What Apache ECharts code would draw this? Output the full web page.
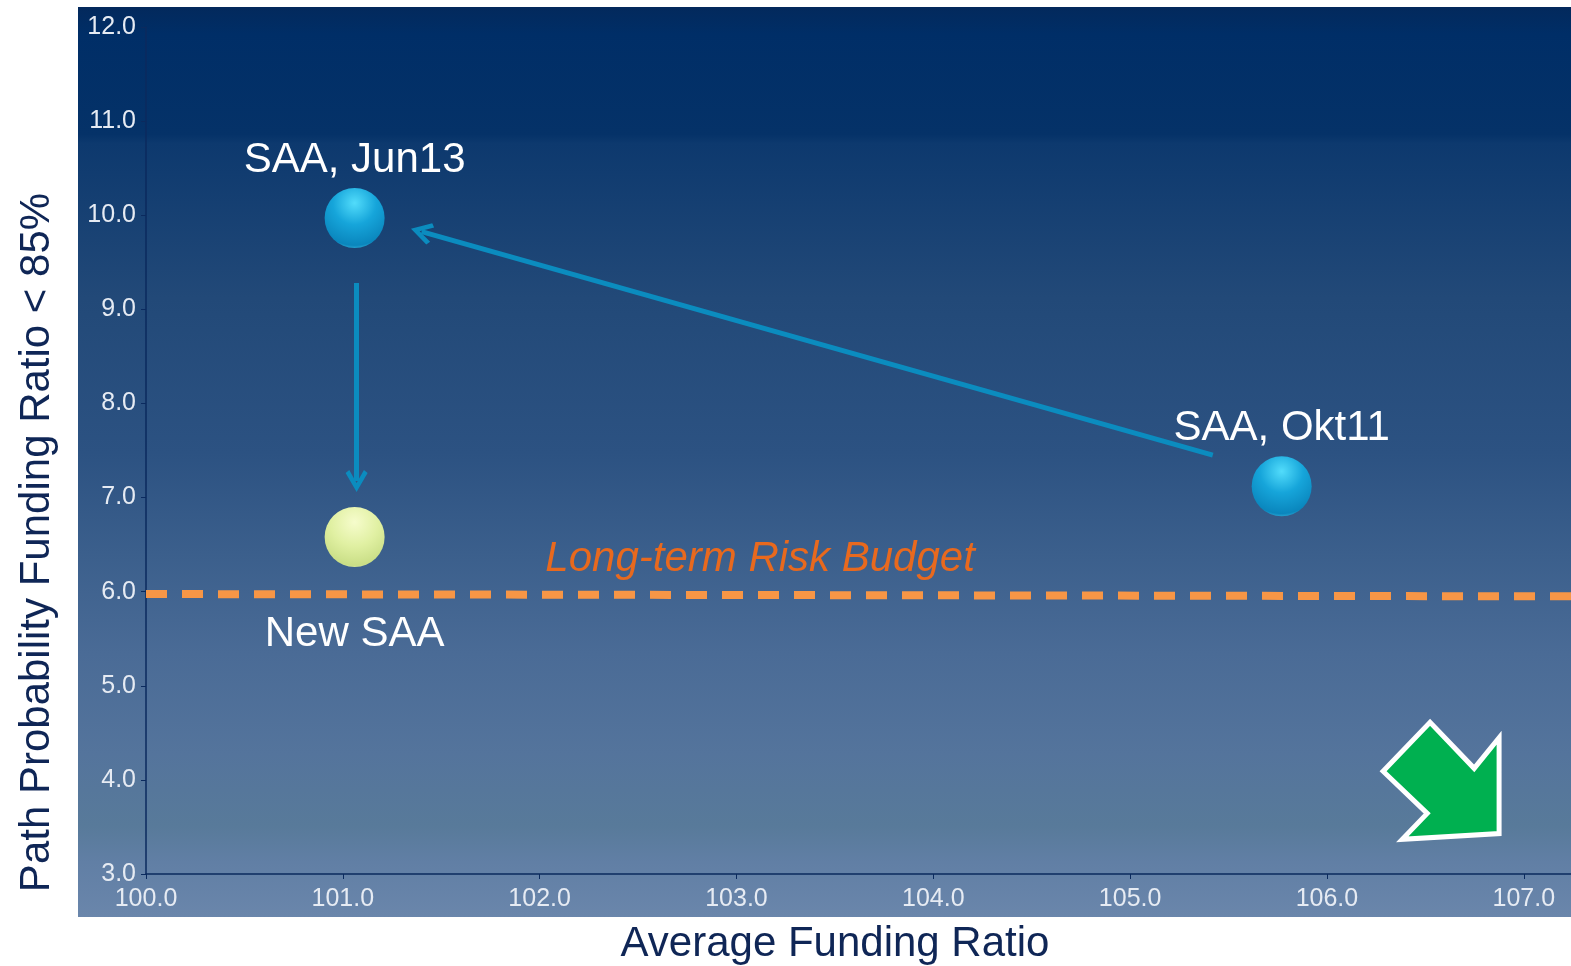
<!DOCTYPE html>
<html>
<head>
<meta charset="utf-8">
<title>Path probability vs average funding ratio</title>
<script src="https://cdn.jsdelivr.net/npm/echarts@6/dist/echarts.min.js"></script>
<style>
  html, body { margin: 0; padding: 0; background: #ffffff; }
  #chart { width: 1571px; height: 966px; }
</style>
</head>
<body>
<div id="chart"></div>
<script>
// portfolios (x = average funding ratio, y = path probability < 85%)
const pointNames = ['SAA, Jun13', 'New SAA', 'SAA, Okt11'];
const pointX = [101.06, 101.06, 105.77];
const pointY = [9.97, 6.58, 7.12];

// transition arrows
const arrowFrom = [[105.42, 7.45], [101.07, 9.28]];
const arrowTo = [[101.40, 9.825], [101.07, 7.175]];

// long-term risk budget line
const budgetX = [100, 107.24];
const budgetY = [5.975, 5.95];
const budgetLabel = 'Long-term Risk Budget';
const budgetLabelAt = [103.12, 5.97];

// green "better" indicator
const indicatorAt = [106.58, 3.99];

const FONT = "'Liberation Sans', Arial, sans-serif";
const AXIS_DARK = '#0b2a5e';
const LABEL_LIGHT = '#e6ebf3';

const blueBall = {
    type: 'radial', x: 0.5, y: 0.25, r: 0.8,
    colorStops: [
        { offset: 0, color: '#52dcfb' },
        { offset: 0.45, color: '#16a5da' },
        { offset: 0.88, color: '#0a86bd' },
        { offset: 1, color: '#40bde3' }
    ]
};
const greenBall = {
    type: 'radial', x: 0.5, y: 0.25, r: 0.8,
    colorStops: [
        { offset: 0, color: '#f6fccc' },
        { offset: 0.5, color: '#e0f0a2' },
        { offset: 0.9, color: '#c9de86' },
        { offset: 1, color: '#e4f2b0' }
    ]
};

// label placement for each ball: [position, distance]
const labelPlace = [['top', 7], ['bottom', 46], ['top', 7]];

const chart = echarts.init(document.getElementById('chart'));

const option = {
    backgroundColor: '#ffffff',
    animation: false,
    graphic: [
        {
            type: 'rect',
            z: -10,
            silent: true,
            shape: { x: 78, y: 7, width: 1493, height: 910 },
            style: {
                fill: {
                    type: 'linear', x: 0, y: 0, x2: 0, y2: 1,
                    colorStops: [
                        { offset: 0, color: '#03295c' },
                        { offset: 0.03, color: '#002e67' },
                        { offset: 0.14, color: '#053268' },
                        { offset: 0.15, color: '#0d396e' },
                        { offset: 0.32, color: '#224978' },
                        { offset: 0.49, color: '#2c5282' },
                        { offset: 0.6, color: '#3b5f8c' },
                        { offset: 0.71, color: '#4a6b96' },
                        { offset: 0.82, color: '#54749c' },
                        { offset: 0.9, color: '#587a9a' },
                        { offset: 0.94, color: '#617fa5' },
                        { offset: 1, color: '#6a86ab' }
                    ]
                }
            }
        }
    ],
    grid: {
        left: 146,
        right: 0,
        top: 27,
        bottom: 92,
        containLabel: false,
        outerBoundsMode: 'none'
    },
    xAxis: {
        type: 'value',
        min: 100,
        max: 107.24,
        interval: 1,
        name: 'Average Funding Ratio',
        nameLocation: 'middle',
        nameGap: 49,
        nameTextStyle: {
            fontFamily: FONT,
            fontSize: 42,
            color: '#0f2656',
            padding: [0, 47, 0, 0]
        },
        axisLine: { show: true, lineStyle: { color: AXIS_DARK, width: 1.5 } },
        axisTick: { show: true, length: 5, lineStyle: { color: AXIS_DARK } },
        splitLine: { show: false },
        axisLabel: {
            showMaxLabel: false,
            margin: 13,
            fontFamily: FONT,
            fontSize: 25,
            color: LABEL_LIGHT,
            formatter: function (v) {
                return Math.abs(v - Math.round(v)) < 1e-6 ? v.toFixed(1) : '';
            }
        }
    },
    yAxis: {
        type: 'value',
        min: 3,
        max: 12,
        interval: 1,
        name: 'Path Probability Funding Ratio < 85%',
        nameLocation: 'middle',
        nameGap: 88,
        nameRotate: 90,
        nameTextStyle: {
            fontFamily: FONT,
            fontSize: 42,
            color: '#0f2656',
            padding: [0, 184, 0, 0]
        },
        axisLine: { show: true, lineStyle: { color: AXIS_DARK, width: 1.5 } },
        axisTick: { show: true, length: 5, lineStyle: { color: AXIS_DARK } },
        splitLine: { show: false },
        axisLabel: {
            margin: 10,
            fontFamily: FONT,
            fontSize: 25,
            color: LABEL_LIGHT,
            formatter: function (v) { return v.toFixed(1); }
        }
    },
    series: [
        {
            name: 'risk budget',
            type: 'line',
            symbol: 'none',
            silent: true,
            lineStyle: { color: '#f79646', width: 8, type: [21, 15] },
            data: budgetX.map((x, i) => [x, budgetY[i]]),
            markPoint: {
                symbol: 'circle',
                symbolSize: 0,
                silent: true,
                label: {
                    show: true,
                    position: 'inside',
                    offset: [0, -35],
                    formatter: budgetLabel,
                    fontFamily: FONT,
                    fontSize: 42,
                    fontStyle: 'italic',
                    color: '#e8691e'
                },
                data: [{ coord: budgetLabelAt }]
            },
            z: 2
        },
        {
            name: 'moves',
            type: 'lines',
            coordinateSystem: 'cartesian2d',
            silent: true,
            symbol: ['none', 'path://M12,0L24,19L20,22L12,9L4,22L0,19Z'],
            symbolSize: [24, 22],
            lineStyle: { color: '#0b8cbf', width: 5, opacity: 1 },
            data: arrowFrom.map((f, i) => ({ coords: [f, arrowTo[i]] })),
            z: 3
        },
        {
            name: 'portfolios',
            type: 'scatter',
            symbolSize: 60,
            itemStyle: { opacity: 1 },
            data: pointNames.map((n, i) => ({
                name: n,
                value: [pointX[i], pointY[i]],
                itemStyle: { color: i === 1 ? greenBall : blueBall, opacity: 1 },
                label: {
                    show: true,
                    position: labelPlace[i][0],
                    distance: labelPlace[i][1],
                    formatter: n,
                    fontFamily: FONT,
                    fontSize: 42,
                    color: '#ffffff',
                    opacity: 1
                }
            })),
            z: 4
        },
        {
            name: 'indicator',
            type: 'scatter',
            silent: true,
            symbol: 'path://M0,51L49,0L95,48L121,16L121,116L20,122L46,95Z',
            symbolSize: [116, 117],
            itemStyle: { color: '#00b050', borderColor: '#ffffff', borderWidth: 5, opacity: 1 },
            data: [indicatorAt],
            z: 4
        }
    ]
};

chart.setOption(option);
</script>
</body>
</html>
